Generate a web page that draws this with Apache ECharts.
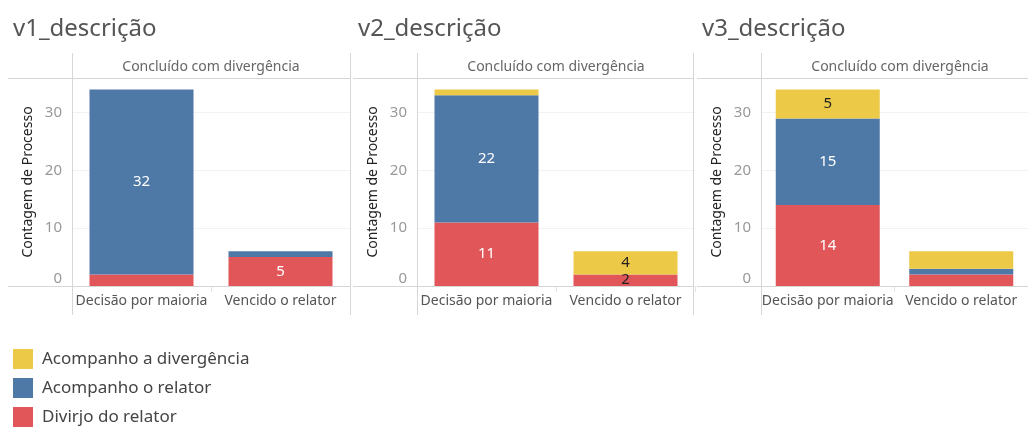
<!DOCTYPE html>
<html>
<head>
<meta charset="utf-8">
<script src="https://cdn.jsdelivr.net/npm/echarts@6/dist/echarts.min.js"></script>
<style>
  html, body { margin: 0; padding: 0; background: #fff; }
  #chart { width: 1028px; height: 428px; }
</style>
</head>
<body>
<div id="chart"></div>
<script>
const panelTitles = ['v1_descrição', 'v2_descrição', 'v3_descrição'];
const headerLabel = 'Concluído com divergência';
const categories = ['Decisão por maioria', 'Vencido o relator'];
const seriesNames = ['Acompanho a divergência', 'Acompanho o relator', 'Divirjo do relator'];

// one pair per panel: [Decisão por maioria, Vencido o relator]
const divergenciaCounts = [[0, 0], [1, 4], [5, 3]];
const relatorCounts = [[32, 1], [22, 0], [15, 1]];
const divirjoCounts = [[2, 5], [11, 2], [14, 2]];

const yTicks = [0, 10, 20, 30];
const yMax = 36;

// segments that carry a value label: [panel, category, series]
const labelledMarks = [
  [0, 0, 1], [0, 1, 2],
  [1, 0, 1], [1, 0, 2], [1, 1, 0], [1, 1, 2],
  [2, 0, 0], [2, 0, 1], [2, 0, 2],
];

const FONT = 'Noto Sans';
const COLORS = ['#EDC948', '#4E79A7', '#E15759'];

// layout of the three panels
const panelLeft = [8, 353, 697];
const panelRight = [350, 693, 1028];
const plotLeft = [72, 417, 761];
const plotWidth = 278;
const plotTop = 78;
const plotBottom = 286;
const ruleTop = 53;
const ruleBottom = 315;

const countsBySeries = [divergenciaCounts, relatorCounts, divirjoCounts];

function isLabelled(p, c, s) {
  return labelledMarks.some(m => m[0] === p && m[1] === c && m[2] === s);
}

function buildOption() {
  const grid = [];
  const xAxis = [];
  const yAxis = [];
  const series = [];
  const title = [];
  const graphic = [];

  panelTitles.forEach((name, p) => {
    title.push({
      text: name,
      left: panelLeft[p] + 5,
      top: 17,
      padding: 0,
      textStyle: { fontFamily: FONT, fontSize: 24, fontWeight: 'normal', color: '#555' },
    });

    grid.push({
      left: plotLeft[p],
      top: plotTop,
      width: plotWidth,
      height: plotBottom - plotTop,
    });

    xAxis.push({
      type: 'category',
      gridIndex: p,
      data: categories,
      axisLine: { show: false },
      axisTick: { show: true, length: 6, lineStyle: { color: '#e4e4e4' } },
      axisLabel: { interval: 0, margin: 8, color: '#555', fontFamily: FONT, fontSize: 14 },
    });

    yAxis.push({
      type: 'value',
      gridIndex: p,
      min: 0,
      max: yMax,
      interval: 10,
      name: 'Contagem de Processo',
      nameLocation: 'middle',
      nameGap: 37,
      nameTextStyle: { fontFamily: FONT, fontSize: 14, color: '#222' },
      axisLine: { show: false },
      axisTick: { show: false },
      axisLabel: {
        margin: 10,
        color: '#999',
        fontFamily: FONT,
        fontSize: 15,
        showMaxLabel: false,
        verticalAlignMinLabel: 'bottom',
        formatter: v => (yTicks.includes(v) ? String(v) : ''),
      },
      splitLine: { lineStyle: { color: '#f2f2f2' } },
    });

    // stack bottom-up: Divirjo, Acompanho o relator, Acompanho a divergência
    [2, 1, 0].forEach(s => {
      series.push({
        name: seriesNames[s],
        type: 'bar',
        xAxisIndex: p,
        yAxisIndex: p,
        stack: 'panel' + p,
        barWidth: 104,
        itemStyle: { color: COLORS[s] },
        data: countsBySeries[s][p].map((value, c) => ({
          value,
          label: {
            show: isLabelled(p, c, s),
            position: 'inside',
            fontFamily: FONT,
            fontSize: 15,
            // small segments and the yellow one get dark text
            color: s === 0 || value < 3 ? '#222' : '#fff',
          },
        })),
      });
    });

    // header band and rules
    graphic.push({
      type: 'text',
      x: plotLeft[p] + plotWidth / 2,
      y: 67,
      style: {
        text: headerLabel,
        fontFamily: FONT,
        fontSize: 14,
        fill: '#666',
        align: 'center',
        verticalAlign: 'middle',
      },
    });
    [plotTop, plotBottom].forEach(y => {
      graphic.push({
        type: 'line',
        shape: { x1: panelLeft[p], y1: y + 0.5, x2: panelRight[p], y2: y + 0.5 },
        style: { stroke: '#d6d6d6', lineWidth: 1 },
        z: 10,
      });
    });
  });

  [72, 350, 417, 693, 761].forEach(x => {
    graphic.push({
      type: 'line',
      shape: { x1: x + 0.5, y1: ruleTop, x2: x + 0.5, y2: ruleBottom },
      style: { stroke: '#d6d6d6', lineWidth: 1 },
      z: 10,
    });
  });

  return {
    animation: false,
    backgroundColor: '#fff',
    textStyle: { fontFamily: FONT },
    title,
    grid,
    xAxis,
    yAxis,
    series,
    graphic,
    legend: {
      data: seriesNames,
      orient: 'vertical',
      left: 13,
      top: 349,
      padding: 0,
      icon: 'rect',
      itemWidth: 20,
      itemHeight: 20,
      itemGap: 9,
      selectedMode: false,
      textStyle: { fontFamily: FONT, fontSize: 17, color: '#444', padding: [0, 0, 0, 4] },
    },
  };
}

const chart = echarts.init(document.getElementById('chart'));
chart.setOption(buildOption());
window.addEventListener('resize', () => chart.resize());
</script>
</body>
</html>
